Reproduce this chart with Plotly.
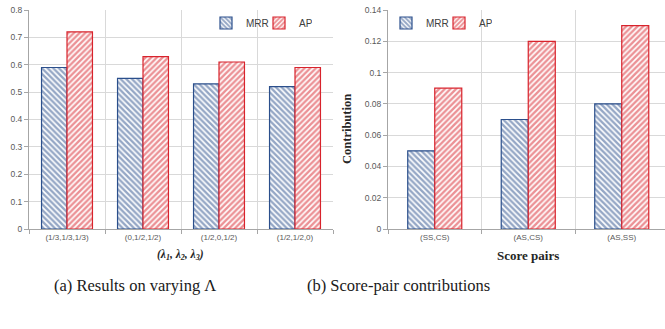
import plotly.graph_objects as go

# ---- data ----
lambda_cats = ["(1/3,1/3,1/3)", "(0,1/2,1/2)", "(1/2,0,1/2)", "(1/2,1/2,0)"]
lambda_mrr = [0.59, 0.55, 0.53, 0.52]
lambda_ap = [0.72, 0.63, 0.61, 0.59]

pair_cats = ["(SS,CS)", "(AS,CS)", "(AS,SS)"]
pair_mrr = [0.05, 0.07, 0.08]
pair_ap = [0.09, 0.12, 0.13]

left_ticks = [0, 0.1, 0.2, 0.3, 0.4, 0.5, 0.6, 0.7, 0.8]
right_ticks = [0, 0.02, 0.04, 0.06, 0.08, 0.1, 0.12, 0.14]

BLUE = "#2B4F8C"
RED = "#D8232C"
W, H = 665, 329

def pat(shape, color):
    return dict(shape=shape, fgcolor=color, bgcolor="white", size=4, solidity=0.6)

fig = go.Figure()
wl = 0.335
wr = 0.289
fig.add_bar(x=lambda_cats, y=lambda_mrr, name="MRR", xaxis="x", yaxis="y",
            width=wl, offset=-wl, legend="legend",
            marker=dict(color="white", pattern=pat("\\", BLUE), line=dict(color=BLUE, width=1.2)))
fig.add_bar(x=lambda_cats, y=lambda_ap, name="AP", xaxis="x", yaxis="y",
            width=wl, offset=0, legend="legend",
            marker=dict(color="white", pattern=pat("/", RED), line=dict(color=RED, width=1.2)))
fig.add_bar(x=pair_cats, y=pair_mrr, name="MRR", xaxis="x2", yaxis="y2",
            width=wr, offset=-wr, legend="legend2",
            marker=dict(color="white", pattern=pat("\\", BLUE), line=dict(color=BLUE, width=1.2)))
fig.add_bar(x=pair_cats, y=pair_ap, name="AP", xaxis="x2", yaxis="y2",
            width=wr, offset=0, legend="legend2",
            marker=dict(color="white", pattern=pat("/", RED), line=dict(color=RED, width=1.2)))

tickfont = dict(family="Liberation Sans", size=8.5, color="#595959")
xtickfont = dict(family="Liberation Sans", size=8, color="#595959")
ydom = [1 - 229 / H, 1 - 10 / H]
common_x = dict(type="category", tickson="boundaries", ticks="outside", ticklen=4,
                tickcolor="#A6A6A6", showline=True, linecolor="#A6A6A6", linewidth=1,
                showgrid=True, gridcolor="#D9D9D9", gridwidth=1, tickfont=xtickfont,
                fixedrange=True, automargin=False)
common_y = dict(ticks="outside", ticklen=4, tickcolor="#A6A6A6", showline=True,
                linecolor="#A6A6A6", linewidth=1, showgrid=True, gridcolor="#D9D9D9",
                gridwidth=1, tickfont=tickfont, zeroline=False, domain=ydom,
                automargin=False, fixedrange=True)

legfont = dict(family="Liberation Sans", size=10, color="#404040")
fig.update_layout(
    width=W, height=H, margin=dict(l=0, r=0, t=0, b=0, autoexpand=False),
    paper_bgcolor="white", plot_bgcolor="white",
    xaxis=dict(common_x, domain=[29 / W, 333 / W], range=[-0.5, 3.5], anchor="y"),
    yaxis=dict(common_y, range=[0, 0.8], tickvals=left_ticks,
               ticktext=[("%g" % v) for v in left_ticks], anchor="x"),
    xaxis2=dict(common_x, domain=[388 / W, 1.0], range=[-0.5, 2.5 - 3.5 / 93.5], anchor="y2"),
    yaxis2=dict(common_y, range=[0, 0.14], tickvals=right_ticks,
                ticktext=[("%g" % v) for v in right_ticks], anchor="x2"),
    legend=dict(orientation="h", x=206 / W, y=1 - 23 / H, xanchor="left", yanchor="middle",
                font=legfont, bgcolor="rgba(0,0,0,0)", itemwidth=30, entrywidth=8,
                traceorder="normal"),
    legend2=dict(orientation="h", x=386 / W, y=1 - 23 / H, xanchor="left", yanchor="middle",
                 font=legfont, bgcolor="rgba(0,0,0,0)", itemwidth=30, entrywidth=8,
                 traceorder="normal"),
    showlegend=True,
)

serif = "Liberation Serif"
def ann(text, x, y, size, angle=0, color="#262626"):
    fig.add_annotation(text=text, x=x / W, y=1 - y / H, xref="paper", yref="paper",
                       xanchor="center", yanchor="middle", showarrow=False, textangle=angle,
                       font=dict(family=serif, size=size, color=color))

ann("<b><i>(λ<sub>1</sub>, λ<sub>2</sub>, λ<sub>3</sub>)</i></b>", 181, 255, 11.5)
ann("<b>Score pairs</b>", 528, 255, 13)
ann("<b>Contribution</b>", 347, 129, 12.5, angle=-90)
ann("(a) Results on varying Λ", 135, 285, 16.5, color="#1a1a1a")
ann("(b) Score-pair contributions", 398, 285, 16.5, color="#1a1a1a")

fig.write_html("out.html",
               config={"displayModeBar": False, "staticPlot": True},
               post_script="document.body.style.margin='0px';"
                           "document.documentElement.style.overflow='hidden';")
